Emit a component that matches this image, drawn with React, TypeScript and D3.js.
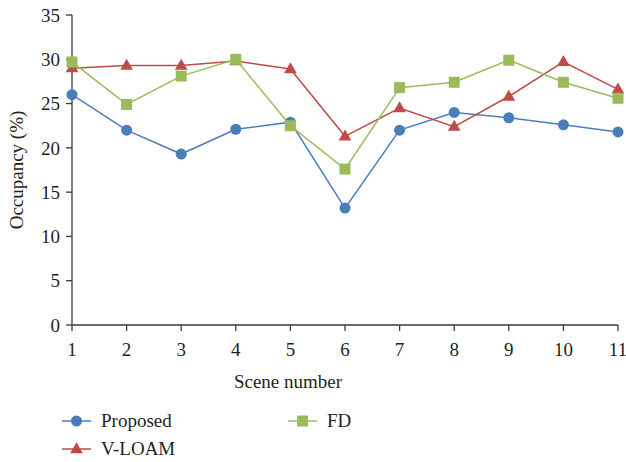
import React from "react";
import * as d3 from "d3";

const scenes = [1, 2, 3, 4, 5, 6, 7, 8, 9, 10, 11];
const proposed = [26.0, 22.0, 19.3, 22.1, 22.9, 13.2, 22.0, 24.0, 23.4, 22.6, 21.8];
const vloam = [29.0, 29.3, 29.3, 29.8, 28.9, 21.3, 24.5, 22.4, 25.8, 29.7, 26.6];
const fd = [29.7, 24.9, 28.1, 30.0, 22.5, 17.6, 26.8, 27.4, 29.9, 27.4, 25.6];
const yTicks = [0, 5, 10, 15, 20, 25, 30, 35];
const seriesNames = ["Proposed", "V-LOAM", "FD"];

const W = 626, H = 462;
const font = "Liberation Serif, serif";
const axisColor = "#3a3a3a";
const textStyle = { fontFamily: font, fontSize: "19px", fill: "#231f20" } as React.CSSProperties;

export default function App() {
  const x = d3.scaleLinear().domain([1, 11]).range([72, 618]);
  const y = d3.scaleLinear().domain([0, 35]).range([325, 15]);
  const line = d3.line<number>().x((_, i) => x(scenes[i])).y((d) => y(d));
  const series = [
    { name: seriesNames[0], data: proposed, color: "#4a7ebb", shape: "circle" },
    { name: seriesNames[1], data: vloam, color: "#be4b48", shape: "triangle" },
    { name: seriesNames[2], data: fd, color: "#9bbb59", shape: "square" },
  ];
  const marker = (shape: string, cx: number, cy: number, color: string, key: any) => {
    if (shape === "circle") return <circle key={key} cx={cx} cy={cy} r={5.5} fill={color} />;
    if (shape === "square") return <rect key={key} x={cx - 5.5} y={cy - 5.5} width={11} height={11} fill={color} />;
    const p = d3.symbol().type(d3.symbolTriangle).size(70)();
    return <path key={key} d={p as string} transform={`translate(${cx},${cy + 0.5})`} fill={color} />;
  };
  const legend = [
    { x: 62, y: 421 },
    { x: 62, y: 449 },
    { x: 288, y: 421 },
  ];
  return (
    <svg width={W} height={H} style={{ position: "absolute", left: 0, top: 0, background: "#fff" }}>
      <rect width={W} height={H} fill="#fff" />
      <line x1={72} x2={72} y1={y(35)} y2={y(0)} stroke={axisColor} strokeWidth={1.3} />
      <line x1={72} x2={618} y1={y(0)} y2={y(0)} stroke={axisColor} strokeWidth={1.3} />
      {yTicks.map((t) => (
        <g key={"y" + t}>
          <line x1={66} x2={72} y1={y(t)} y2={y(t)} stroke={axisColor} strokeWidth={1.3} />
          <text x={60} y={y(t)} dy="0.35em" textAnchor="end" style={textStyle}>{t}</text>
        </g>
      ))}
      {scenes.map((s) => (
        <g key={"x" + s}>
          <line x1={x(s)} x2={x(s)} y1={y(0)} y2={y(0) + 6} stroke={axisColor} strokeWidth={1.3} />
          <text x={x(s)} y={356} textAnchor="middle" style={textStyle}>{s}</text>
        </g>
      ))}
      <text x={288} y={388} textAnchor="middle" style={textStyle}>Scene number</text>
      <text transform={`translate(23,${170}) rotate(-90)`} textAnchor="middle" style={textStyle}>Occupancy (%)</text>
      {series.map((s) => (
        <g key={s.name}>
          <path d={line(s.data) as string} fill="none" stroke={s.color} strokeWidth={1.5} />
          {s.data.map((d, i) => marker(s.shape, x(scenes[i]), y(d), s.color, i))}
        </g>
      ))}
      {series.map((s, i) => (
        <g key={"lg" + s.name}>
          <line x1={legend[i].x} x2={legend[i].x + 29} y1={legend[i].y} y2={legend[i].y} stroke={s.color} strokeWidth={1.5} />
          {marker(s.shape, legend[i].x + 14.5, legend[i].y, s.color, "m")}
          <text x={legend[i].x + 39} y={legend[i].y + 6} style={textStyle}>{s.name}</text>
        </g>
      ))}
    </svg>
  );
}
